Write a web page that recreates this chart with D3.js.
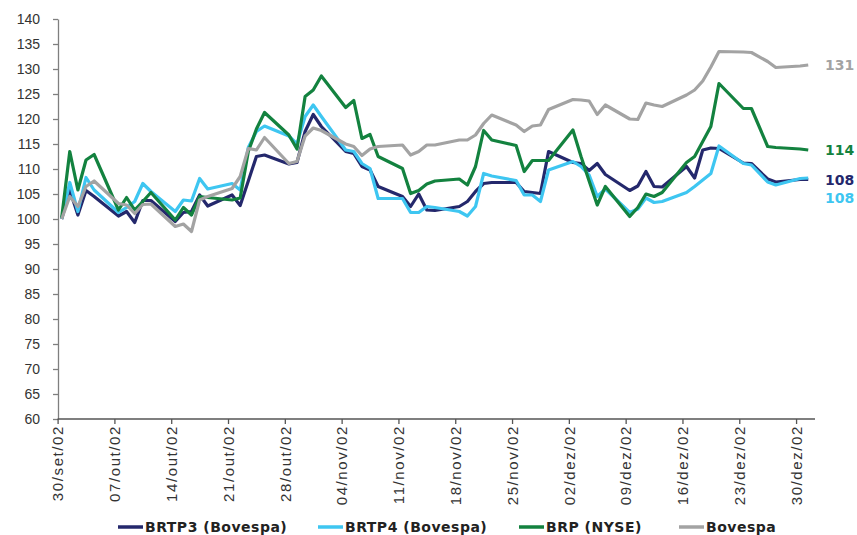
<!DOCTYPE html>
<html>
<head>
<meta charset="utf-8">
<script src="https://cdn.jsdelivr.net/npm/d3@7"></script>
<style>
  body { margin: 0; background: #fff; }
</style>
</head>
<body>
<div id="container"></div>
<script>
// DATA

const dates = [
  "2002-09-30","2002-10-01","2002-10-02","2002-10-03","2002-10-04",
  "2002-10-07","2002-10-08","2002-10-09","2002-10-10","2002-10-11",
  "2002-10-14","2002-10-15","2002-10-16","2002-10-17","2002-10-18",
  "2002-10-21","2002-10-22","2002-10-23","2002-10-24","2002-10-25",
  "2002-10-28","2002-10-29","2002-10-30","2002-10-31","2002-11-01",
  "2002-11-04","2002-11-05","2002-11-06","2002-11-07","2002-11-08",
  "2002-11-11","2002-11-12","2002-11-13","2002-11-14","2002-11-15",
  "2002-11-18","2002-11-19","2002-11-20","2002-11-21","2002-11-22",
  "2002-11-25","2002-11-26","2002-11-27","2002-11-28","2002-11-29",
  "2002-12-02","2002-12-03","2002-12-04","2002-12-05","2002-12-06",
  "2002-12-09","2002-12-10","2002-12-11","2002-12-12","2002-12-13",
  "2002-12-16","2002-12-17","2002-12-18","2002-12-19","2002-12-20",
  "2002-12-23","2002-12-24","2002-12-26","2002-12-27",
  "2002-12-30","2002-12-31"
]

const brtp3 = [
  100, 105.8, 100.8, 105.7, 104.5,
  100.6, 101.5, 99.3, 103.7, 103.7,
  99.5, 101.3, 101.5, 104.8, 102.6,
  104.8, 102.7, 107.6, 112.5, 112.8,
  111, 111.3, 117.5, 120.9, 118.5,
  113.5, 113.1, 110.5, 109.8, 106.5,
  104.5, 102.5, 105, 101.8, 101.7,
  102.5, 103.5, 105.5, 107.1, 107.3,
  107.3, 105.5, 105.3, 105.1, 113.5,
  111.3, 111.1, 109.7, 111.1, 108.9,
  105.7, 106.6, 109.5, 106.5, 106.4,
  110.5, 108.2, 113.8, 114.2, 114.1,
  111.2, 111.1, 108, 107.4,
  107.9, 107.9
]

const brtp4 = [
  100, 107.3, 101.5, 108.3, 105.8,
  101.3, 102.3, 103.5, 107.1, 105.5,
  101.5, 103.8, 103.6, 108.1, 106,
  107.1, 105.8, 114.3, 117.5, 118.6,
  116.6, 115, 120.5, 122.8, 120.5,
  113.8, 113.5, 111.1, 110.1, 104.1,
  104.1, 101.3, 101.3, 102.5, 102.3,
  101.5, 100.6, 102.5, 109.1, 108.6,
  107.7, 104.8, 104.8, 103.5, 109.8,
  111.5, 110.5, 108.8, 104.5, 106,
  101.3, 102, 104.2, 103.3, 103.5,
  105.3, 106.5, 107.8, 109.1, 114.6,
  111.1, 110.8, 107.4, 106.8,
  108.1, 108.2
]

const brp = [
  100.2, 113.5, 105.8, 111.8, 112.9,
  101.8, 104.3, 101.8, 103.5, 105.3,
  99.8, 102.3, 100.8, 104.5, 104.3,
  103.8, 104.2, 113.5, 118, 121.3,
  116.8, 114, 124.5, 125.8, 128.6,
  122.3, 123.7, 116.1, 116.9, 112.5,
  110.1, 105.1, 105.7, 107, 107.6,
  108, 106.8, 110.5, 117.7, 115.8,
  114.7, 109.5, 111.7, 111.7, 111.7,
  117.8, 112.5, 107.6, 102.8, 106.5,
  100.5, 102.3, 105, 104.5, 105.3,
  111.3, 112.5, 115.5, 118.5, 127.1,
  122.1, 122.1, 114.5, 114.3,
  114, 113.8
]

const bovespa = [
  100, 104.5, 102.5, 106.5, 107.6,
  103.1, 102.8, 101.1, 102.9, 103,
  98.5, 99, 97.5, 103.8, 104.5,
  106.1, 108.5, 114.1, 113.8, 116.3,
  111.1, 111.5, 116.6, 118.2, 117.7,
  115, 114.5, 112.7, 114, 114.5,
  114.8, 112.8, 113.5, 114.8, 114.8,
  115.8, 115.8, 116.8, 119.1, 120.8,
  118.8, 117.5, 118.6, 118.8, 121.9,
  123.9, 123.8, 123.6, 120.9, 122.8,
  120, 119.9, 123.2, 122.8, 122.5,
  124.8, 125.8, 127.6, 130.4, 133.5,
  133.4, 133.3, 131.5, 130.3,
  130.6, 130.8
]

const seriesNames = ["BRTP3 (Bovespa)", "BRTP4 (Bovespa)", "BRP (NYSE)", "Bovespa"]
const seriesColors = ["#24286c", "#3ec6f1", "#13823f", "#a3a3a3"]

const yTickValues = [60, 65, 70, 75, 80, 85, 90, 95, 100, 105, 110, 115, 120, 125, 130, 135, 140]
const xTickDates = ["2002-09-30","2002-10-07","2002-10-14","2002-10-21","2002-10-28","2002-11-04",
  "2002-11-11","2002-11-18","2002-11-25","2002-12-02","2002-12-09","2002-12-16","2002-12-23","2002-12-30"]

// VARIABLES

const width = 857,
      height = 535,
      margin = {top: 19, bottom: 116, left: 58, right: 45}

const parseDate = d3.timeParse("%Y-%m-%d")
const ptLocale = d3.timeFormatLocale({
  dateTime: "%d/%m/%Y %H:%M:%S", date: "%d/%m/%Y", time: "%H:%M:%S",
  periods: ["AM", "PM"],
  days: ["domingo","segunda","terça","quarta","quinta","sexta","sábado"],
  shortDays: ["dom","seg","ter","qua","qui","sex","sáb"],
  months: ["janeiro","fevereiro","março","abril","maio","junho","julho","agosto","setembro","outubro","novembro","dezembro"],
  shortMonths: ["jan","fev","mar","abr","mai","jun","jul","ago","set","out","nov","dez"]
})
const formatTick = ptLocale.format("%d/%b/%y")

const allSeries = [brtp3, brtp4, brp, bovespa].map((values, i) => ({
  name: seriesNames[i],
  color: seriesColors[i],
  points: values.map((v, j) => ({date: d3.timeHour.offset(parseDate(dates[j]), 12), value: v}))
}))

// SCALES

const xScale = d3.scaleTime()
    .domain([parseDate("2002-09-30"), parseDate("2003-01-01")])
    .range([margin.left - 0.4, 812.3])

const yScale = d3.scaleLinear()
    .domain([60, 140])
    .range([height - margin.bottom, margin.top])

// ELEMENTS

const mySVG = d3.select("#container")
    .append("svg")
    .attr("width", width)
    .attr("height", height)
    .style("font-family", "'DejaVu Sans', Verdana, sans-serif")

const yAxis = d3.axisLeft(yScale)
    .tickValues(yTickValues)
    .tickSize(5)
    .tickSizeOuter(0)
    .tickPadding(13)

const xAxis = d3.axisBottom(xScale)
    .tickValues(xTickDates.map(parseDate))
    .tickFormat(formatTick)
    .tickSize(5)
    .tickSizeOuter(0)

const gy = mySVG.append("g")
    .attr("transform", `translate(${margin.left},0)`)
    .call(yAxis)

gy.selectAll("path, line").attr("stroke", "#7f7f7f").attr("stroke-width", 1.3)
gy.selectAll("text")
    .attr("fill", "#333")
    .style("font-family", "'Liberation Sans', Arial, sans-serif")
    .style("font-size", "14px")

const gx = mySVG.append("g")
    .attr("transform", `translate(0,${yScale(60)})`)
    .call(xAxis)

gx.select(".domain").attr("d", "M57.6,0H815")
gx.selectAll("path, line").attr("stroke", "#555").attr("stroke-width", 1.3)
gx.selectAll("text")
    .attr("fill", "#333")
    .style("font-size", "15px")
    .style("letter-spacing", "1.6px")
    .attr("text-anchor", "end")
    .attr("transform", "rotate(-90)")
    .attr("x", -6)
    .attr("y", 0)
    .attr("dy", "0.35em")

// SELECT-JOIN-DRAW

const line = d3.line()
    .x(d => xScale(d.date))
    .y(d => yScale(d.value))

mySVG.selectAll("path.series")
    .data(allSeries)
    .join("path")
    .attr("class", "series")
    .attr("d", d => line(d.points))
    .attr("fill", "none")
    .attr("stroke", d => d.color)
    .attr("stroke-width", 3.2)
    .attr("stroke-linejoin", "round")

// end labels, BRTP4 nudged below BRTP3
mySVG.selectAll("text.endlabel")
    .data(allSeries)
    .join("text")
    .attr("class", "endlabel")
    .attr("x", 825)
    .attr("y", (d, i) => yScale(d.points[d.points.length - 1].value) + (i === 1 ? 20 : 0))
    .attr("dy", "0.36em")
    .attr("fill", d => d.color)
    .style("font-size", "14px")
    .style("font-weight", "bold")
    .text(d => d3.format(".0f")(d.points[d.points.length - 1].value))

// LEGEND

const legendX = [118, 318, 519, 679]

const legend = mySVG.selectAll("g.legend")
    .data(allSeries)
    .join("g")
    .attr("class", "legend")
    .attr("transform", (d, i) => `translate(${legendX[i]},527)`)

legend.append("line")
    .attr("x1", 0).attr("x2", 25)
    .attr("stroke", d => d.color)
    .attr("stroke-width", 3.5)

legend.append("text")
    .attr("x", 27)
    .attr("dy", "0.36em")
    .attr("fill", "#222")
    .style("font-size", "14px")
    .style("font-weight", "bold")
    .style("letter-spacing", "0.5px")
    .text(d => d.name)
</script>
</body>
</html>
